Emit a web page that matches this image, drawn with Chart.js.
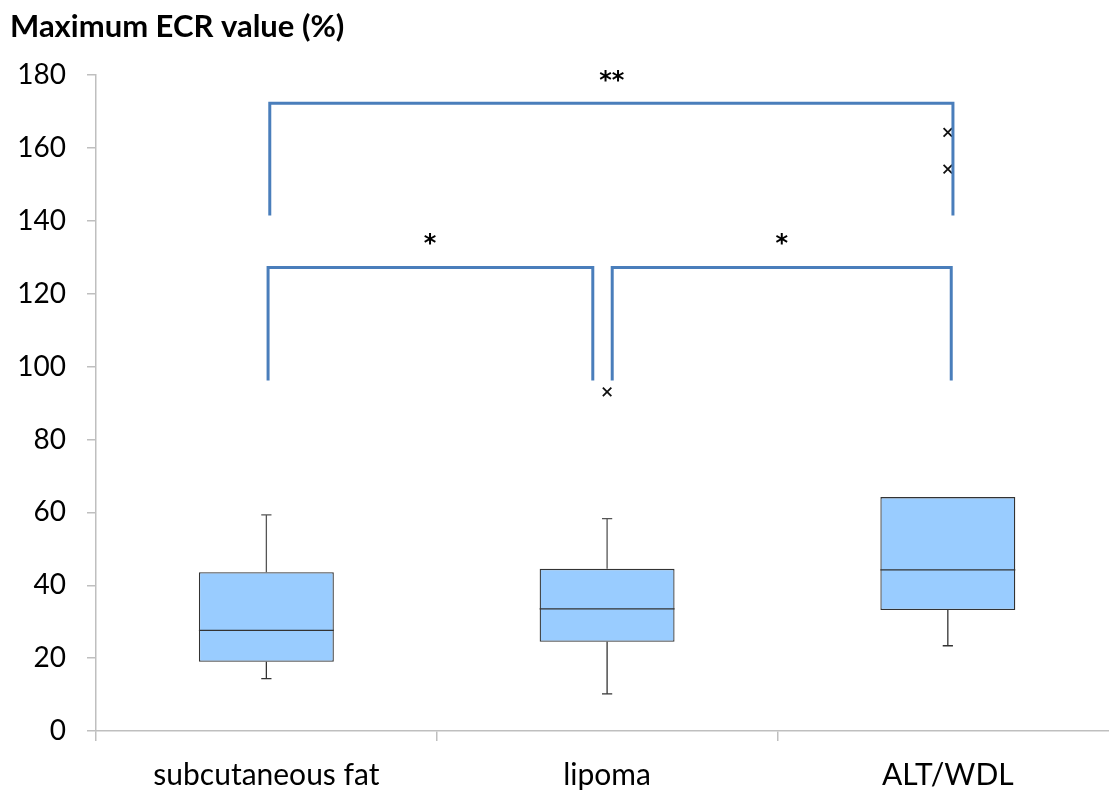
<!DOCTYPE html>
<html>
<head>
<meta charset="utf-8">
<script src="https://cdn.jsdelivr.net/npm/chart.js@4"></script>
<style>
    html, body { margin: 0; padding: 0; background: #fff; overflow: hidden; }
    #wrap { width: 1126px; height: 790px; }
</style>
</head>
<body>
<div id="wrap"><canvas id="chart"></canvas></div>
<script>
// box plot values (%)
const groups = ['subcutaneous fat', 'lipoma', 'ALT/WDL'];
const q1 = [19.0, 24.5, 33.2];
const median = [27.6, 33.5, 44.2];
const q3 = [43.6, 44.5, 64.2];
const whiskerLow = [14.4, 10.2, 23.4];
const whiskerHigh = [59.3, 58.3, 64.2];
const outliers = [{x: 1.5, y: 93.1}, {x: 2.5, y: 164.3}, {x: 2.5, y: 154.2}];

// significance brackets, x in group units (0..3)
const bracketFrom = [0.51, 0.505, 1.515];
const bracketTo = [2.515, 1.458, 2.51];
const bracketTop = [172.3, 127.2, 127.2];
const bracketFoot = [141.5, 96.2, 96.2];
const starLabels = ['**', '*', '*'];
const starX = [1.514, 0.98, 2.013];
const starY = [179.4, 134.7, 134.7];

const boxWidth = 0.396;
const capHalf = 0.015;
const FONT = 'Lato';

function segment(points, color, width) {
    return {
        type: 'line',
        xAxisID: 'x2',
        data: points,
        borderColor: color,
        borderWidth: width,
        pointRadius: 0,
        fill: false,
        order: 0
    };
}

let datasets = [{
    type: 'bar',
    data: groups.map((g, i) => [q1[i], q3[i]]),
    backgroundColor: '#99CCFF',
    borderColor: '#333333',
    borderWidth: 1.3,
    borderSkipped: false,
    grouped: false,
    barPercentage: boxWidth,
    categoryPercentage: 1,
    order: 10
}];

groups.forEach((g, i) => {
    let c = i + 0.5;
    datasets.push(segment([{x: c - boxWidth / 2, y: median[i]}, {x: c + boxWidth / 2, y: median[i]}], '#333333', 1.3));
    if (whiskerHigh[i] > q3[i]) {
        datasets.push(segment([{x: c, y: q3[i]}, {x: c, y: whiskerHigh[i]}], '#555555', 1.3));
        datasets.push(segment([{x: c - capHalf, y: whiskerHigh[i]}, {x: c + capHalf, y: whiskerHigh[i]}], '#555555', 1.3));
    }
    if (whiskerLow[i] < q1[i]) {
        datasets.push(segment([{x: c, y: q1[i]}, {x: c, y: whiskerLow[i]}], '#333333', 1.3));
        datasets.push(segment([{x: c - capHalf, y: whiskerLow[i]}, {x: c + capHalf, y: whiskerLow[i]}], '#333333', 1.3));
    }
});

bracketFrom.forEach((x0, i) => {
    datasets.push(segment([
        {x: x0, y: bracketFoot[i]},
        {x: x0, y: bracketTop[i]},
        {x: bracketTo[i], y: bracketTop[i]},
        {x: bracketTo[i], y: bracketFoot[i]}
    ], '#4A7EBB', 3));
});

datasets.push({
    type: 'scatter',
    xAxisID: 'x2',
    data: outliers,
    pointStyle: 'crossRot',
    pointRadius: 6,
    borderColor: '#111111',
    borderWidth: 1.8,
    order: 0
});

const starPlugin = {
    id: 'stars',
    afterDatasetsDraw(chart) {
        const ctx = chart.ctx;
        const xs = chart.scales.x2, ys = chart.scales.y;
        ctx.save();
        ctx.font = 'bold 24px "DejaVu Sans"';
        ctx.fillStyle = '#000';
        ctx.textAlign = 'center';
        ctx.textBaseline = 'alphabetic';
        starLabels.forEach((t, i) => {
            ctx.fillText(t, xs.getPixelForValue(starX[i]), ys.getPixelForValue(starY[i]) + 11);
        });
        ctx.restore();
    }
};

new Chart(document.getElementById('chart'), {
    type: 'bar',
    data: {labels: groups, datasets: datasets},
    plugins: [starPlugin],
    options: {
        responsive: true,
        maintainAspectRatio: false,
        animation: false,
        layout: {padding: {left: 10, right: 4, top: 0, bottom: 0}},
        plugins: {
            legend: {display: false},
            tooltip: {enabled: false},
            title: {
                display: true,
                text: 'Maximum ECR value (%)',
                align: 'start',
                color: '#000',
                font: {family: FONT, size: 31, weight: 'bold'},
                padding: {top: 8, bottom: 30}
            }
        },
        scales: {
            x: {
                type: 'category',
                offset: true,
                grid: {offset: true, drawOnChartArea: false, drawTicks: true, tickLength: 10, color: '#BFBFBF', lineWidth: 1.5},
                border: {color: '#BFBFBF', width: 1.5},
                ticks: {color: '#000', font: {family: FONT, size: 30}, padding: 16, maxRotation: 0},
                afterFit: (scale) => { scale.height = 59; }
            },
            x2: {
                type: 'linear',
                display: false,
                offset: false,
                grid: {offset: false},
                min: 0,
                max: 3
            },
            y: {
                min: 0,
                max: 180,
                grid: {drawOnChartArea: false, drawTicks: true, tickLength: 9, color: '#BFBFBF', lineWidth: 1.5},
                border: {color: '#BFBFBF', width: 1.5},
                ticks: {stepSize: 20, color: '#000', font: {family: FONT, size: 28}, padding: 21},
                afterFit: (scale) => { scale.width = 86; }
            }
        }
    }
});
</script>
</body>
</html>
